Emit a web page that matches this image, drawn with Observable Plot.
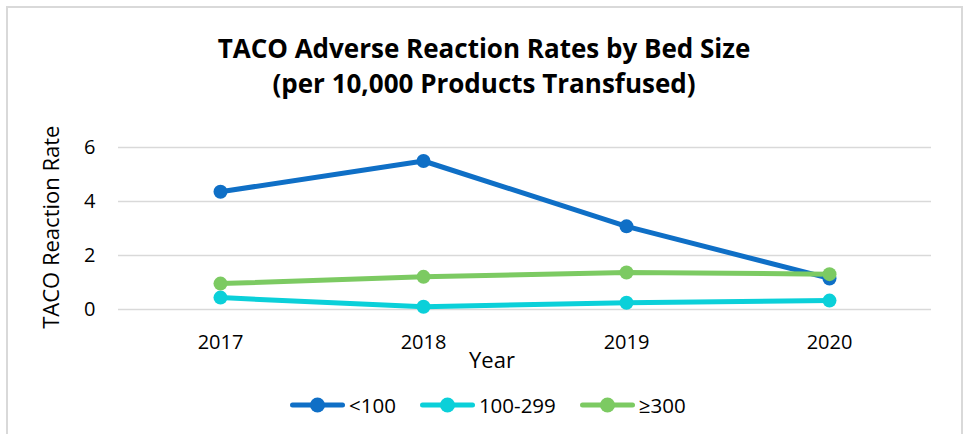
<!DOCTYPE html>
<html>
<head>
<meta charset="utf-8">
<script src="https://cdn.jsdelivr.net/npm/d3@7"></script>
<script src="https://cdn.jsdelivr.net/npm/@observablehq/plot@0.6"></script>
<style>
  html, body { margin: 0; padding: 0; background: #fff; }
  #chart { position: relative; width: 963px; height: 434px; overflow: hidden; font-family: "Open Sans", sans-serif; }
  #frame { position: absolute; left: 6px; top: 6px; width: 957px; height: 440px; border: 2px solid #d9d9d9; box-sizing: border-box; }
  #title { position: absolute; left: 0; width: 968px; top: 31px; text-align: center; font-weight: bold; font-size: 26px; line-height: 35px; color: #000; white-space: nowrap; }
  #plot { position: absolute; left: 0; top: 0; }
  #legend { position: absolute; left: 290px; top: 393px; height: 24px; display: flex; justify-content: flex-start; align-items: center; font-size: 20.5px; color: #000; white-space: nowrap; }
  .item { display: flex; align-items: center; margin-right: 24px; }
  .item svg { margin-right: 4px; display: block; }
</style>
</head>
<body>
<div id="chart">
  <div id="frame"></div>
  <div id="title"></div>
  <div id="plot"></div>
  <div id="legend"></div>
</div>
<script>
const titleLines = ["TACO Adverse Reaction Rates by Bed Size", "(per 10,000 Products Transfused)"];
const years = ["2017", "2018", "2019", "2020"];
const seriesNames = ["<100", "100-299", "\u2265300"];
const seriesColors = ["#0F6FC6", "#0BD0D9", "#7CCA62"];
const valuesUnder100 = [4.36, 5.50, 3.08, 1.15];
const values100to299 = [0.44, 0.10, 0.25, 0.33];
const values300plus = [0.96, 1.21, 1.37, 1.31];
const yTicks = [0, 2, 4, 6];
const yLabel = "TACO Reaction Rate";
const xLabel = "Year";

const seriesValues = [valuesUnder100, values100to299, values300plus];
const data = [];
seriesNames.forEach((s, si) => years.forEach((yr, i) => data.push({series: s, year: yr, value: seriesValues[si][i]})));

const esc = t => t.replace(/&/g, "&amp;").replace(/</g, "&lt;");
document.getElementById("title").innerHTML = titleLines.map(t => `<div>${esc(t)}</div>`).join("");

const fontFamily = "'Open Sans', sans-serif";
const plot = Plot.plot({
  width: 963,
  height: 434,
  marginLeft: 118,
  marginRight: 32,
  marginTop: 120,
  marginBottom: 125,
  style: {fontFamily, fontSize: "20px", color: "#000", background: "transparent", overflow: "visible"},
  x: {type: "point", domain: years, padding: 0.5, align: 0.5},
  y: {domain: [0, 7]},
  marks: [
    Plot.gridY(yTicks, {stroke: "#d9d9d9", strokeOpacity: 1, strokeWidth: 1.5}),
    Plot.axisY(yTicks, {tickSize: 0, tickPadding: 23, label: null, fontSize: 20}),
    Plot.axisX(years, {tickSize: 0, tickPadding: 25, label: null, fontSize: 20}),
    Plot.text([yLabel], {frameAnchor: "left", y: () => 3.05, rotate: -90, dx: -67, textAnchor: "middle", lineAnchor: "middle", fontSize: 22, text: d => d}),
    Plot.text([xLabel], {frameAnchor: "bottom", dy: 58, dx: -33, textAnchor: "middle", fontSize: 22, text: d => d}),
    ...seriesNames.map((s, si) => Plot.line(data.filter(d => d.series === s), {x: "year", y: "value", stroke: seriesColors[si], strokeWidth: 5, strokeLinecap: "round", strokeLinejoin: "round"})),
    ...seriesNames.map((s, si) => Plot.dot(data.filter(d => d.series === s), {x: "year", y: "value", fill: seriesColors[si], r: 7}))
  ]
});
document.getElementById("plot").appendChild(plot);

const legend = document.getElementById("legend");
seriesNames.forEach((s, si) => {
  const item = document.createElement("div");
  item.className = "item";
  item.innerHTML = `<svg width="55" height="18"><line x1="2.5" x2="52.5" y1="9" y2="9" stroke="${seriesColors[si]}" stroke-width="5" stroke-linecap="round"/><circle cx="27.5" cy="9" r="7.5" fill="${seriesColors[si]}"/></svg><span>${esc(s)}</span>`;
  legend.appendChild(item);
});
</script>
</body>
</html>
